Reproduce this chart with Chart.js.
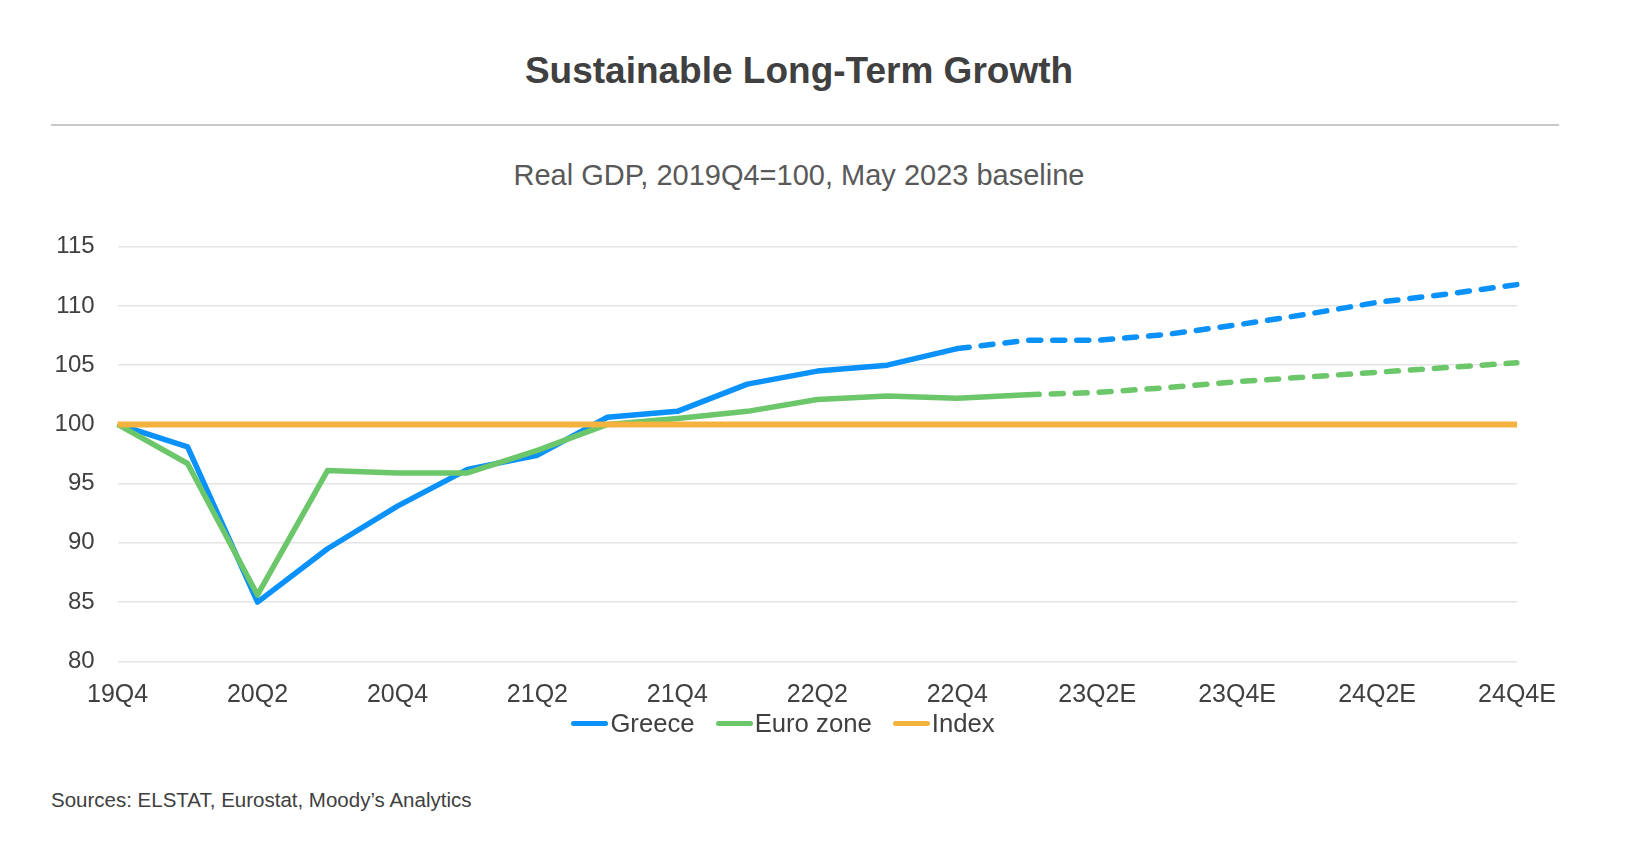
<!DOCTYPE html>
<html>
<head>
<meta charset="utf-8">
<script src="https://cdn.jsdelivr.net/npm/chart.js@4.4.1/dist/chart.umd.min.js"></script>
<style>
  body { margin: 0; background: #fff; font-family: "Liberation Sans", Arial, sans-serif; color: #404040; }
  #page { position: relative; width: 1646px; height: 860px; overflow: hidden; }
  .title { position: absolute; left: 0; width: 1598px; top: 51px; line-height: 40px; text-align: center; font-size: 37px; font-weight: bold; color: #404040; }
  .rule { position: absolute; left: 51px; width: 1508px; top: 124px; height: 2px; background: #c9c9c9; }
  .subtitle { position: absolute; left: 0; width: 1598px; top: 155px; line-height: 40px; text-align: center; font-size: 29px; color: #595959; }
  .chart-box { position: absolute; left: 0; top: 200px; width: 1566px; height: 530px; }
  .legend { position: absolute; left: 0; width: 1566px; top: 708px; height: 30px; display: flex; justify-content: center; align-items: center; gap: 21px; font-size: 25.7px; }
  .legend span.item { display: flex; align-items: center; gap: 2px; }
  .legend span.swatch { display: inline-block; width: 37px; height: 5px; border-radius: 3px; }
  .sources { position: absolute; left: 51px; top: 788px; line-height: 24px; font-size: 20.5px; color: #404040; }
</style>
</head>
<body>
<div id="page">
  <div class="title">Sustainable Long-Term Growth</div>
  <div class="rule"></div>
  <div class="subtitle">Real GDP, 2019Q4=100, May 2023 baseline</div>
  <div class="chart-box"><canvas id="chart"></canvas></div>
  <div class="legend" id="legend"></div>
  <div class="sources">Sources: ELSTAT, Eurostat, Moody’s Analytics</div>
</div>
<script>
const quarters = ['19Q4', '20Q1', '20Q2', '20Q3', '20Q4', '21Q1', '21Q2', '21Q3', '21Q4', '22Q1', '22Q2',
  '22Q3', '22Q4', '23Q1', '23Q2E', '23Q3E', '23Q4E', '24Q1E', '24Q2E', '24Q3E', '24Q4E'];

const greece = [100, 98.1, 85.0, 89.5, 93.1, 96.2, 97.4, 100.6, 101.1, 103.4, 104.5,
  105.0, 106.4, 107.1, 107.1, 107.6, 108.4, 109.3, 110.3, 111.0, 111.8];

const euroZone = [100, 96.7, 85.6, 96.1, 95.9, 95.9, 97.8, 100.0, 100.5, 101.1, 102.1,
  102.4, 102.2, 102.5, 102.7, 103.1, 103.6, 104.0, 104.4, 104.8, 105.2];

const indexLine = [100, 100, 100, 100, 100, 100, 100, 100, 100, 100, 100,
  100, 100, 100, 100, 100, 100, 100, 100, 100, 100];

const yTicks = [80, 85, 90, 95, 100, 105, 110, 115];

// forecasts start after the last actual quarter
const greeceLastActual = 12;
const euroLastActual = 13;

const BLUE = '#0a92fa';
const GREEN = '#6cc66a';
const ORANGE = '#f4b33f';

function dashAfter(last) {
  return {
    borderDash: ctx => ctx.p0DataIndex >= last ? [12, 12] : undefined,
    borderCapStyle: ctx => ctx.p0DataIndex >= last ? 'round' : 'butt'
  };
}

const datasets = [
  { label: 'Greece', data: greece, borderColor: BLUE, borderWidth: 5.5, order: 2, segment: dashAfter(greeceLastActual) },
  { label: 'Euro zone', data: euroZone, borderColor: GREEN, borderWidth: 5.5, order: 1, segment: dashAfter(euroLastActual) },
  { label: 'Index', data: indexLine, borderColor: ORANGE, borderWidth: 6, order: 0 }
];

const family = '"Liberation Sans", Arial, sans-serif';

new Chart(document.getElementById('chart'), {
  type: 'line',
  data: { labels: quarters, datasets: datasets },
  options: {
    responsive: true,
    maintainAspectRatio: false,
    animation: false,
    layout: { padding: { top: 46.7, right: 49, left: 0, bottom: 0 } },
    elements: { point: { radius: 0 }, line: { tension: 0, borderJoinStyle: 'round' } },
    plugins: { legend: { display: false }, tooltip: { enabled: false } },
    scales: {
      x: {
        offset: false,
        grid: { display: false },
        border: { display: false },
        ticks: {
          autoSkip: false, maxRotation: 0, color: '#404040', font: { family: family, size: 25 }, padding: 11,
          callback: (v, i) => i % 2 === 0 ? quarters[i] : ''
        },
        // fixed height, and no extra side room for the end labels
        afterFit: s => { s.height = 68.7; s.paddingLeft = 0; s.paddingRight = 0; }
      },
      y: {
        min: 80, max: 115,
        grid: { color: '#e4e4e4', lineWidth: 1.5, drawTicks: false },
        border: { display: false },
        afterBuildTicks: s => { s.ticks = yTicks.map(v => ({ value: v })); },
        ticks: { color: '#404040', font: { family: family, size: 24 }, padding: 23 },
        afterFit: s => { s.width = 117.6; }
      }
    }
  }
});

// legend built from the datasets, in data order
const legend = document.getElementById('legend');
datasets.forEach(d => {
  const item = document.createElement('span');
  item.className = 'item';
  item.innerHTML = '<span class="swatch" style="background:' + d.borderColor + '"></span>' + d.label;
  legend.appendChild(item);
});
</script>
</body>
</html>
